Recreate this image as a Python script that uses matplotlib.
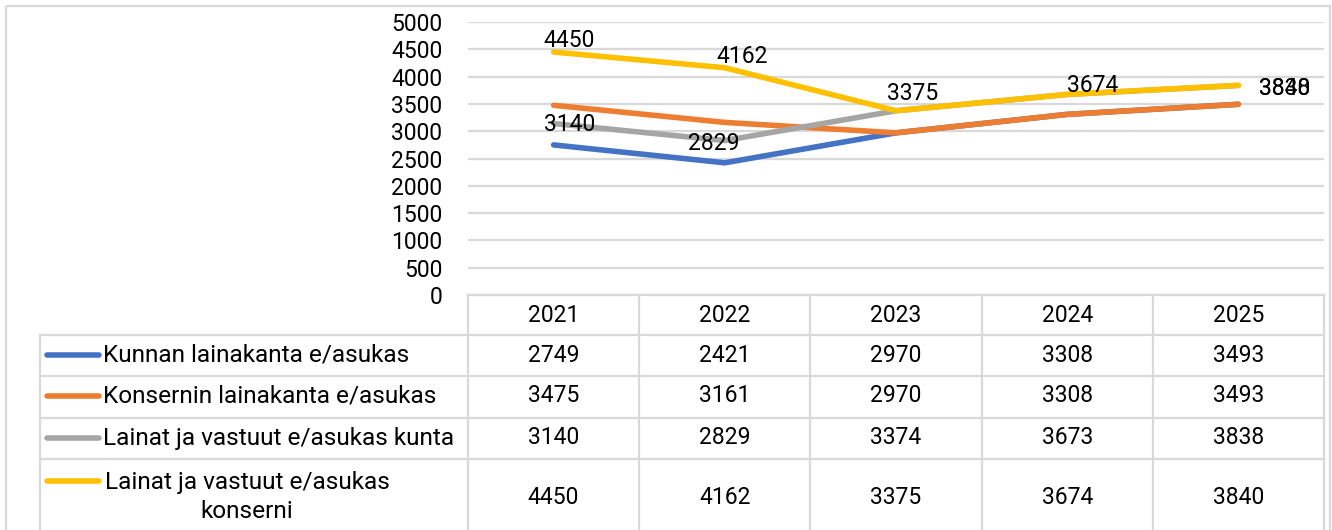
import matplotlib.pyplot as plt
from matplotlib.patches import Rectangle

years = ['2021', '2022', '2023', '2024', '2025']
series_names = ['Kunnan lainakanta e/asukas',
                'Konsernin lainakanta e/asukas',
                'Lainat ja vastuut e/asukas kunta',
                'Lainat ja vastuut e/asukas\nkonserni']
kunta_laina = [2749, 2421, 2970, 3308, 3493]
konserni_laina = [3475, 3161, 2970, 3308, 3493]
kunta_vastuut = [3140, 2829, 3374, 3673, 3838]
konserni_vastuut = [4450, 4162, 3375, 3674, 3840]
y_ticks = list(range(0, 5001, 500))

series = [kunta_laina, konserni_laina, kunta_vastuut, konserni_vastuut]
colors = ['#4472C4', '#ED7D31', '#A5A5A5', '#FFC000']

# (series, point, dx px, dy px) - data labels as placed in the original
labels = [(2, 0, 16, -1), (2, 1, -11, -3), (2, 4, 46, -3),
          (3, 0, 16, 12), (3, 1, 17, 11), (3, 2, 17, 17),
          (3, 3, 25, 9), (3, 4, 46, -3)]

plt.rcParams['font.family'] = ['Roboto', 'DejaVu Sans']
fs = 16.5
name_fs = 17.6
grid_c = '#D9D9D9'

W, H = 1332, 530
fig = plt.figure(figsize=(W / 100, H / 100), dpi=100)

# pixel layout
x0, x1 = 468, 1324
y_top, y_zero = 22, 295
ax = fig.add_axes([x0 / W, 1 - y_zero / H, (x1 - x0) / W, (y_zero - y_top) / H])
ax.set_xlim(-0.5, len(years) - 0.5)
ax.set_ylim(0, 5000)
ax.set_yticks(y_ticks)
ax.set_xticks([])
ax.tick_params(axis='y', length=0, pad=18.5, labelsize=fs)
ax.grid(axis='y', color=grid_c, lw=1.6)
ax.set_axisbelow(True)
for s in ax.spines.values():
    s.set_visible(False)

xs = range(len(years))
for vals, c in zip(series, colors):
    ax.plot(xs, vals, color=c, lw=4, solid_capstyle='round', solid_joinstyle='round')

for si, pi, dx, dy in labels:
    ax.annotate(str(series[si][pi]), (pi, series[si][pi]), xytext=(dx, dy),
                textcoords='offset pixels', ha='center', va='center', fontsize=fs)

# overlay in pixel coordinates for the data table and frame
ov = fig.add_axes([0, 0, 1, 1])
ov.set_xlim(0, W)
ov.set_ylim(H, 0)
ov.axis('off')
ov.patch.set_visible(False)

ov.add_patch(Rectangle((6, 6), 1324 - 6 + 6, 600, fill=False, ec=grid_c, lw=1.6))

col_w = (x1 - x0) / len(years)
col_edges = [x0 + i * col_w for i in range(len(years) + 1)]
rows = [295, 335, 376, 418, 459, 560]
legend_x = 40

kw = dict(color=grid_c, lw=1.6)
# header row
ov.plot([x0, x1], [rows[0], rows[0]], **kw)
for r in rows[1:-1]:
    ov.plot([legend_x, x1], [r, r], **kw)
for e in col_edges:
    ov.plot([e, e], [rows[0], rows[-1]], **kw)
ov.plot([legend_x, legend_x], [rows[1], rows[-1]], **kw)

for i, y in enumerate(years):
    ov.text(x0 + (i + 0.5) * col_w, (rows[0] + rows[1]) / 2, y,
            ha='center', va='center', fontsize=fs)

row_centers = [355, 396, 438, 497]
for r, (name, vals, c) in enumerate(zip(series_names, series, colors)):
    yc = row_centers[r]
    if '\n' in name:
        key_y = 481
        ov.text(247, yc, name, ha='center', va='center', fontsize=name_fs,
                multialignment='center', linespacing=1.35)
    else:
        key_y = yc
        ov.text(103, yc, name, ha='left', va='center', fontsize=name_fs)
    ov.plot([47, 99], [key_y, key_y], color=c, lw=4, solid_capstyle='round')
    for i, v in enumerate(vals):
        ov.text(x0 + (i + 0.5) * col_w, yc, str(v), ha='center', va='center', fontsize=fs)

fig.savefig('out.png', dpi=100)
